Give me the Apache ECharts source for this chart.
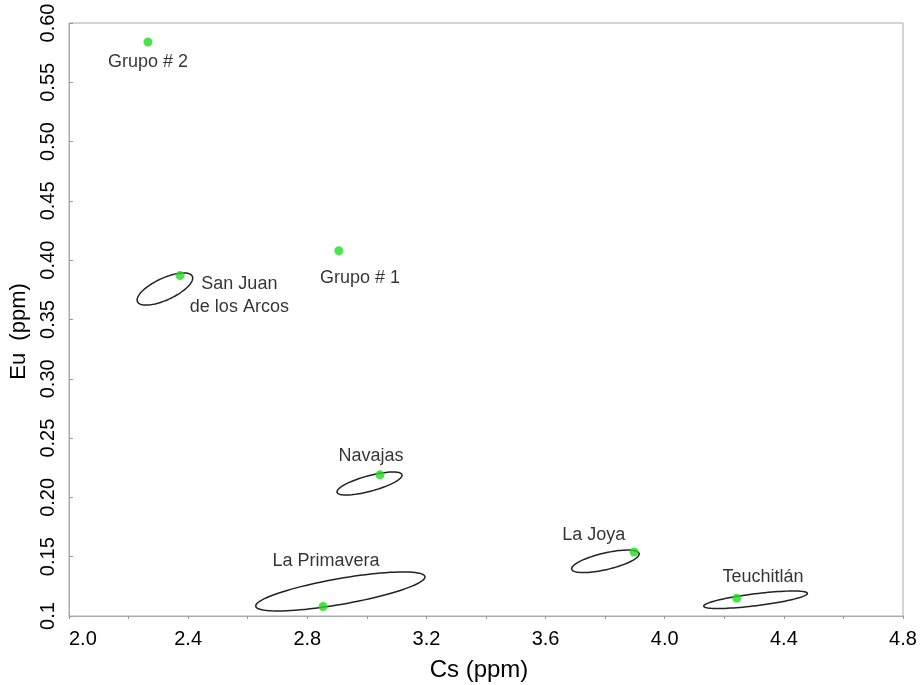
<!DOCTYPE html>
<html>
<head>
<meta charset="utf-8">
<script src="https://cdn.jsdelivr.net/npm/echarts@6/dist/echarts.min.js"></script>
<style>html,body{margin:0;padding:0;background:#fff}#c{width:923px;height:685px}</style>
</head>
<body>
<div id="c"></div>
<script>
// Sample points (Cs, Eu in ppm)
const pointNames = ['Grupo # 2', 'Grupo # 1', 'San Juan de los Arcos', 'Navajas', 'La Primavera', 'La Joya', 'Teuchitlán'];
const pointCs = [2.265, 2.906, 2.373, 3.044, 2.853, 3.897, 4.242];
const pointEu = [0.584, 0.408, 0.387, 0.219, 0.108, 0.154, 0.115];

// Ellipses: centre, end of major axis (data units), minor/major ratio
const ellNames = ['San Juan de los Arcos', 'Navajas', 'La Primavera', 'La Joya', 'Teuchitlán'];
const ellCx = [2.322, 3.009, 2.911, 3.801, 4.305];
const ellCy = [0.3757, 0.2117, 0.1207, 0.1461, 0.1137];
const ellEx = [2.414, 3.118, 3.195, 3.914, 4.479];
const ellEy = [0.3864, 0.2191, 0.1332, 0.1527, 0.1191];
const ellRatio = [0.36, 0.23, 0.15, 0.24, 0.115];

// Text labels and their anchor points
const labelTexts = ['Grupo # 2', 'Grupo # 1', 'San Juan\nde los Arcos', 'Navajas', 'La Primavera', 'La Joya', 'Teuchitlán'];
const labelCs = [2.265, 2.977, 2.572, 3.014, 2.863, 3.762, 4.330];
const labelEu = [0.567, 0.385, 0.3698, 0.235, 0.1464, 0.168, 0.133];

// Axis ticks
const xMin = 2.0, xMax = 4.8, xStep = 0.4;
const yMin = 0.1, yMax = 0.6, yStep = 0.05;

const FONT = 'Liberation Sans, Arial, sans-serif';

const pointData = pointCs.map((x, i) => ({ name: pointNames[i], value: [x, pointEu[i]] }));
const ellData = ellCx.map((x, i) => ({ name: ellNames[i], value: [x, ellCy[i], ellEx[i], ellEy[i], ellRatio[i]] }));
const labelData = labelCs.map((x, i) => ({ name: labelTexts[i], value: [x, labelEu[i]] }));

const chart = echarts.init(document.getElementById('c'), null, { renderer: 'canvas' });
chart.setOption({
  backgroundColor: '#ffffff',
  animation: false,
  grid: { left: 69, right: 20, top: 23, bottom: 69, show: true, borderColor: '#aaaaaa', borderWidth: 1,
    containLabel: false, outerBoundsMode: 'none' },
  xAxis: {
    type: 'value', min: xMin, max: xMax, interval: xStep,
    name: 'Cs (ppm)', nameLocation: 'middle', nameGap: 42,
    nameTextStyle: { fontFamily: FONT, fontSize: 24, color: '#000', padding: [0, 14, 0, 0] },
    axisLine: { show: true, lineStyle: { color: '#aaaaaa' } },
    axisTick: { show: true, inside: false, length: 3, lineStyle: { color: '#999' } },
    minorTick: { show: true, splitNumber: 2, length: 3, lineStyle: { color: '#999' } },
    splitLine: { show: false },
    axisLabel: { fontFamily: FONT, fontSize: 20, color: '#000', margin: 13,
      alignMinLabel: 'left', alignMaxLabel: 'center',
      formatter: v => v.toFixed(1) }
  },
  yAxis: {
    type: 'value', min: yMin, max: yMax, interval: yStep,
    name: 'Eu  (ppm)', nameLocation: 'middle', nameGap: 36,
    nameTextStyle: { fontFamily: FONT, fontSize: 22, color: '#000', padding: [0, 24, 0, 0] },
    axisLine: { show: true, lineStyle: { color: '#aaaaaa' } },
    axisTick: { show: true, inside: true, length: 4, lineStyle: { color: '#999' } },
    splitLine: { show: false },
    axisLabel: { fontFamily: FONT, fontSize: 20, color: '#000', rotate: 90, margin: 11,
      formatter: v => (Math.abs(v - 0.1) < 1e-9 ? '0.1' : v.toFixed(2)) }
  },
  series: [
    {
      type: 'custom',
      name: 'ellipses',
      data: ellData,
      z: 2,
      renderItem: function (params, api) {
        const c = api.coord([api.value(0), api.value(1)]);
        const e = api.coord([api.value(2), api.value(3)]);
        const dx = e[0] - c[0], dy = e[1] - c[1];
        const a = Math.hypot(dx, dy);
        const b = a * api.value(4);
        const ux = dx / a, uy = dy / a;
        const vx = -uy, vy = ux;
        const pts = [];
        for (let k = 0; k < 96; k++) {
          const t = (k / 96) * Math.PI * 2;
          const ca = Math.cos(t) * a, sb = Math.sin(t) * b;
          pts.push([c[0] + ca * ux + sb * vx, c[1] + ca * uy + sb * vy]);
        }
        return {
          type: 'polygon',
          shape: { points: pts },
          style: { fill: 'none', stroke: '#222222', lineWidth: 1.5 }
        };
      }
    },
    {
      type: 'scatter',
      name: 'points',
      data: pointData,
      symbol: 'circle',
      symbolSize: 9,
      z: 3,
      itemStyle: { color: '#1fdc1f' }
    },
    {
      type: 'scatter',
      name: 'labels',
      data: labelData,
      symbolSize: 0,
      z: 4,
      silent: true,
      label: {
        show: true, position: 'inside', formatter: p => p.name,
        fontFamily: FONT, fontSize: 18, color: '#000', lineHeight: 23, align: 'center', verticalAlign: 'middle'
      }
    }
  ]
});
</script>
</body>
</html>
